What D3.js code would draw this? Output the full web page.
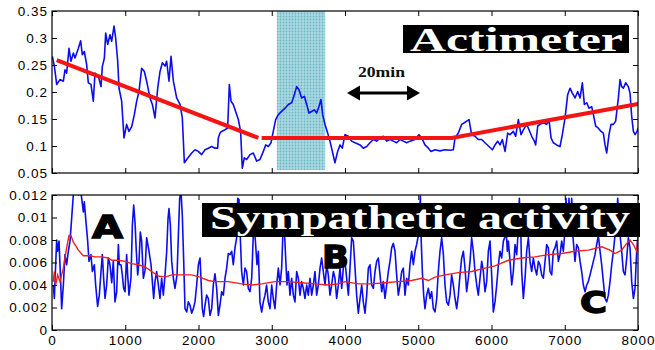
<!DOCTYPE html>
<html>
<head>
<meta charset="utf-8">
<script src="https://cdn.jsdelivr.net/npm/d3@7/dist/d3.min.js"></script>
<style>
  body { margin: 0; background: #fff; }
  svg { display: block; }
  .tick text { font-family: "Liberation Sans", Arial, sans-serif; font-size: 13.5px; letter-spacing: 1px; fill: #000; }
</style>
</head>
<body>
<div id="chart"></div>
<script>
// time axis (samples) shared by both panels
const timeTicks = [0, 1000, 2000, 3000, 4000, 5000, 6000, 7000, 8000];
const actTicks = [0.05, 0.1, 0.15, 0.2, 0.25, 0.3, 0.35];
const symTicks = [0, 0.002, 0.004, 0.006, 0.008, 0.01, 0.012];

// shaded interval on the actimeter panel
const shadeSpan = [3070, 3730];

// actimeter raw trace [t, value]
const actimeter = [
  [5,0.266],[32,0.248],[64,0.214],[109,0.223],[155,0.220],[177,0.241],[200,0.235],[232,0.281],[259,0.257],
  [291,0.272],[314,0.263],[360,0.281],[391,0.295],[414,0.269],[441,0.275],[473,0.251],[496,0.217],[532,0.214],
  [564,0.183],[587,0.235],[633,0.229],[669,0.210],[687,0.247],[715,0.263],[733,0.309],[760,0.288],[792,0.306],
  [815,0.294],[847,0.322],[869,0.300],[897,0.257],[915,0.207],[951,0.183],[983,0.115],[1019,0.140],[1051,0.127],
  [1088,0.136],[1124,0.158],[1156,0.183],[1188,0.201],[1224,0.244],[1261,0.238],[1292,0.220],[1338,0.189],
  [1370,0.177],[1406,0.152],[1443,0.207],[1475,0.238],[1506,0.254],[1543,0.248],[1565,0.257],[1597,0.220],
  [1625,0.266],[1657,0.220],[1702,0.189],[1748,0.177],[1779,0.152],[1807,0.069],[1839,0.075],[1907,0.087],
  [1952,0.093],[1998,0.090],[2043,0.084],[2089,0.093],[2134,0.096],[2180,0.099],[2225,0.096],[2261,0.096],
  [2271,0.115],[2293,0.124],[2316,0.127],[2362,0.130],[2398,0.133],[2421,0.214],[2444,0.183],[2475,0.177],
  [2507,0.164],[2544,0.149],[2575,0.127],[2598,0.059],[2625,0.078],[2657,0.075],[2703,0.084],[2748,0.087],
  [2794,0.072],[2839,0.075],[2885,0.090],[2917,0.102],[2953,0.099],[2990,0.106],[3021,0.127],[3053,0.149],
  [3090,0.158],[3135,0.164],[3181,0.170],[3226,0.177],[3272,0.180],[3308,0.195],[3340,0.210],[3372,0.204],
  [3408,0.189],[3445,0.192],[3477,0.177],[3508,0.161],[3545,0.164],[3581,0.167],[3613,0.161],[3645,0.173],
  [3672,0.186],[3695,0.158],[3727,0.140],[3763,0.124],[3795,0.109],[3827,0.090],[3863,0.069],[3900,0.090],
  [3932,0.102],[3963,0.096],[4000,0.121],[4046,0.118],[4091,0.109],[4137,0.106],[4205,0.102],[4250,0.096],
  [4296,0.099],[4341,0.106],[4387,0.112],[4432,0.109],[4478,0.115],[4523,0.118],[4569,0.109],[4614,0.112],
  [4660,0.109],[4705,0.106],[4751,0.112],[4796,0.109],[4842,0.106],[4887,0.109],[4956,0.112],[5010,0.121],
  [5047,0.115],[5092,0.102],[5138,0.096],[5174,0.090],[5229,0.093],[5297,0.091],[5365,0.093],[5434,0.092],
  [5479,0.093],[5502,0.115],[5547,0.124],[5593,0.140],[5629,0.143],[5661,0.146],[5693,0.149],[5729,0.121],
  [5775,0.118],[5820,0.112],[5866,0.112],[5911,0.106],[5966,0.099],[6012,0.093],[6048,0.102],[6084,0.109],
  [6116,0.102],[6148,0.112],[6185,0.090],[6221,0.124],[6253,0.121],[6298,0.127],[6330,0.118],[6367,0.149],
  [6403,0.121],[6435,0.130],[6480,0.140],[6512,0.130],[6549,0.118],[6585,0.109],[6603,0.102],[6631,0.137],
  [6662,0.140],[6708,0.143],[6753,0.140],[6785,0.149],[6813,0.115],[6844,0.106],[6890,0.102],[6935,0.099],
  [6967,0.121],[7004,0.152],[7040,0.195],[7072,0.207],[7104,0.198],[7140,0.189],[7177,0.201],[7209,0.189],
  [7240,0.217],[7268,0.177],[7300,0.180],[7331,0.170],[7368,0.173],[7391,0.158],[7422,0.137],[7459,0.133],
  [7495,0.127],[7527,0.124],[7550,0.102],[7573,0.087],[7604,0.121],[7632,0.140],[7664,0.140],[7695,0.146],
  [7732,0.189],[7755,0.223],[7777,0.210],[7800,0.207],[7832,0.217],[7868,0.210],[7891,0.198],[7914,0.155],
  [7937,0.127],[7960,0.121],[7987,0.127],[8000,0.133]
];

// piecewise trend fitted on the actimeter
const actTrendA = [[64,0.259],[2817,0.115]];
const actTrendB = [[2862,0.115],[5456,0.115],[8000,0.178]];

// sympathetic activity trace [t, value]
const sympathetic = [
  [18,0.0040],[32,0.0028],[50,0.0058],[64,0.0080],[77,0.0070],[96,0.0079],[118,0.0043],[132,0.0019],[155,0.0040],
  [177,0.0067],[200,0.0058],[223,0.0070],[246,0.0079],[268,0.0099],[291,0.0120],[314,0.0129],[337,0.0132],
  [360,0.0120],[382,0.0129],[405,0.0117],[428,0.0105],[441,0.0114],[460,0.0099],[487,0.0079],[505,0.0061],
  [532,0.0067],[551,0.0052],[578,0.0058],[596,0.0040],[623,0.0021],[646,0.0031],[669,0.0052],[687,0.0067],
  [705,0.0046],[724,0.0028],[746,0.0040],[769,0.0064],[792,0.0058],[815,0.0042],[837,0.0061],[860,0.0025],
  [883,0.0034],[906,0.0076],[919,0.0058],[942,0.0058],[960,0.0049],[978,0.0037],[997,0.0034],[1019,0.0067],
  [1033,0.0049],[1051,0.0031],[1078,0.0046],[1097,0.0093],[1115,0.0111],[1133,0.0096],[1151,0.0070],
  [1170,0.0049],[1188,0.0061],[1206,0.0087],[1224,0.0079],[1247,0.0046],[1270,0.0053],[1292,0.0082],
  [1306,0.0077],[1324,0.0070],[1352,0.0058],[1370,0.0043],[1388,0.0028],[1406,0.0043],[1429,0.0052],
  [1452,0.0040],[1474,0.0028],[1497,0.0046],[1520,0.0031],[1543,0.0049],[1566,0.0070],[1584,0.0099],
  [1597,0.0108],[1616,0.0093],[1634,0.0061],[1657,0.0046],[1679,0.0037],[1707,0.0049],[1725,0.0084],
  [1743,0.0117],[1761,0.0123],[1779,0.0102],[1798,0.0061],[1816,0.0019],[1839,0.0016],[1861,0.0025],
  [1884,0.0022],[1907,0.0015],[1930,0.0019],[1952,0.0025],[1975,0.0040],[1998,0.0058],[2021,0.0064],
  [2052,0.0019],[2070,0.0012],[2089,0.0022],[2111,0.0031],[2134,0.0028],[2157,0.0013],[2180,0.0019],
  [2202,0.0040],[2225,0.0050],[2248,0.0037],[2271,0.0013],[2293,0.0022],[2316,0.0034],[2339,0.0031],
  [2362,0.0046],[2384,0.0055],[2407,0.0068],[2430,0.0067],[2453,0.0070],[2475,0.0058],[2498,0.0073],
  [2521,0.0082],[2535,0.0117],[2553,0.0116],[2571,0.0082],[2589,0.0052],[2612,0.0040],[2635,0.0055],
  [2657,0.0052],[2680,0.0037],[2703,0.0034],[2726,0.0046],[2748,0.0084],[2762,0.0093],[2780,0.0076],
  [2798,0.0058],[2817,0.0070],[2839,0.0025],[2862,0.0016],[2885,0.0025],[2908,0.0031],[2930,0.0040],
  [2953,0.0025],[2976,0.0019],[2999,0.0040],[3021,0.0028],[3044,0.0019],[3067,0.0040],[3090,0.0055],
  [3113,0.0040],[3135,0.0055],[3153,0.0087],[3172,0.0090],[3190,0.0064],[3208,0.0040],[3226,0.0052],
  [3249,0.0031],[3272,0.0046],[3295,0.0031],[3317,0.0025],[3340,0.0052],[3363,0.0046],[3386,0.0031],
  [3408,0.0043],[3431,0.0037],[3454,0.0028],[3477,0.0040],[3499,0.0031],[3522,0.0046],[3545,0.0031],
  [3568,0.0040],[3590,0.0052],[3613,0.0031],[3636,0.0040],[3659,0.0055],[3681,0.0064],[3704,0.0052],
  [3727,0.0040],[3750,0.0058],[3772,0.0049],[3795,0.0031],[3818,0.0040],[3841,0.0052],[3863,0.0046],
  [3886,0.0028],[3909,0.0040],[3932,0.0055],[3955,0.0037],[3977,0.0055],
  [4000,0.0061],[4023,0.0046],[4046,0.0031],[4068,0.0055],[4091,0.0082],[4114,0.0079],[4137,0.0055],
  [4159,0.0031],[4182,0.0015],[4205,0.0028],[4228,0.0040],[4250,0.0025],[4273,0.0015],[4296,0.0031],
  [4319,0.0055],[4341,0.0058],[4364,0.0040],[4387,0.0037],[4410,0.0052],[4432,0.0061],[4455,0.0064],
  [4478,0.0049],[4501,0.0034],[4523,0.0043],[4546,0.0028],[4569,0.0040],[4592,0.0052],[4614,0.0061],
  [4637,0.0073],[4660,0.0077],[4683,0.0070],[4705,0.0049],[4728,0.0031],[4751,0.0040],[4774,0.0052],
  [4796,0.0055],[4819,0.0031],[4842,0.0046],[4865,0.0040],[4887,0.0058],[4910,0.0070],[4933,0.0058],
  [4956,0.0070],[4978,0.0076],[5001,0.0084],[5019,0.0105],[5029,0.0119],[5038,0.0084],[5056,0.0052],
  [5074,0.0031],[5092,0.0019],[5115,0.0031],[5138,0.0037],[5160,0.0028],[5183,0.0034],[5206,0.0019],
  [5229,0.0016],[5252,0.0028],[5274,0.0052],[5297,0.0070],[5320,0.0082],[5343,0.0067],[5365,0.0040],
  [5388,0.0025],[5411,0.0022],[5434,0.0031],[5456,0.0049],[5479,0.0040],[5502,0.0028],[5525,0.0019],
  [5547,0.0031],[5570,0.0049],[5593,0.0064],[5616,0.0070],[5638,0.0055],[5661,0.0034],[5684,0.0046],
  [5707,0.0061],[5729,0.0082],[5752,0.0070],[5775,0.0052],[5798,0.0040],[5820,0.0031],[5843,0.0046],
  [5866,0.0061],[5889,0.0052],[5911,0.0034],[5934,0.0043],[5957,0.0070],[5980,0.0079],[6002,0.0049],
  [6025,0.0016],[6048,0.0025],[6071,0.0040],[6094,0.0058],[6116,0.0070],[6139,0.0064],[6162,0.0079],
  [6185,0.0083],[6198,0.0093],[6216,0.0070],[6230,0.0079],[6253,0.0061],[6276,0.0040],[6298,0.0052],
  [6321,0.0076],[6344,0.0067],[6367,0.0090],[6380,0.0117],[6398,0.0093],[6412,0.0052],[6435,0.0028],
  [6458,0.0046],[6480,0.0070],[6503,0.0082],[6526,0.0061],[6549,0.0052],[6571,0.0064],[6594,0.0055],
  [6617,0.0049],[6640,0.0061],[6662,0.0058],[6685,0.0049],[6708,0.0046],[6731,0.0061],[6753,0.0076],
  [6776,0.0073],[6799,0.0052],[6822,0.0049],[6844,0.0070],[6867,0.0073],[6890,0.0079],[6913,0.0061],
  [6935,0.0067],[6958,0.0079],[6981,0.0070],[7004,0.0090],[7017,0.0117],[7040,0.0084],[7058,0.0117],
  [7077,0.0084],[7095,0.0117],[7113,0.0082],[7140,0.0061],[7163,0.0076],[7186,0.0073],[7209,0.0061],
  [7231,0.0052],[7254,0.0040],[7277,0.0034],[7300,0.0040],[7322,0.0043],[7345,0.0049],[7368,0.0055],
  [7390,0.0061],[7413,0.0067],[7436,0.0076],[7459,0.0084],[7482,0.0070],[7504,0.0058],[7527,0.0043],
  [7550,0.0028],[7573,0.0025],[7595,0.0031],[7618,0.0043],[7641,0.0058],[7664,0.0070],[7686,0.0084],
  [7709,0.0099],[7723,0.0117],[7741,0.0096],[7759,0.0082],[7777,0.0070],[7800,0.0052],[7823,0.0049],
  [7846,0.0064],[7868,0.0082],[7891,0.0073],[7914,0.0043],[7937,0.0028],[7959,0.0037],[7982,0.0070],
  [8000,0.0084]
];

// smoothed sympathetic level
const sympTrend = [
  [18,0.0043],[32,0.0052],[50,0.0040],[77,0.0049],[109,0.0043],[155,0.0055],[200,0.0073],[232,0.0084],
  [259,0.0084],[291,0.0078],[323,0.0075],[360,0.0071],[428,0.0066],[519,0.0066],[587,0.0065],[678,0.0065],
  [769,0.0064],[815,0.0062],[906,0.0062],[997,0.0061],[1088,0.0059],[1179,0.0058],[1270,0.0056],[1361,0.0052],
  [1452,0.0048],[1543,0.0047],[1634,0.0049],[1725,0.0049],[1816,0.0049],[1907,0.0049],[2021,0.0047],
  [2134,0.0044],[2225,0.0043],[2407,0.0043],[2589,0.0041],[2726,0.0040],[2862,0.0041],[3044,0.0043],
  [3226,0.0043],[3408,0.0042],[3590,0.0041],[3772,0.0040],[3909,0.0041],[4000,0.0043],[4182,0.0041],
  [4364,0.0041],[4546,0.0042],[4728,0.0043],[4910,0.0044],[5047,0.0046],[5138,0.0044],[5229,0.0047],
  [5365,0.0049],[5547,0.0051],[5729,0.0052],[5911,0.0055],[6048,0.0057],[6230,0.0062],[6412,0.0064],
  [6594,0.0065],[6776,0.0067],[6958,0.0068],[7140,0.0070],[7322,0.0071],[7504,0.0074],[7618,0.0071],
  [7686,0.0068],[7777,0.0071],[7846,0.0077],[7891,0.0080],[7937,0.0076],[7982,0.0070],[8000,0.0084]
];

const W = 655, H = 350;
const left = 52, right = 638;
const top1 = 11, bot1 = 173;
const top2 = 195, bot2 = 330;

const svg = d3.select("#chart").append("svg")
  .attr("width", W).attr("height", H);

svg.append("rect").attr("width", W).attr("height", H).attr("fill", "#fff");

const defs = svg.append("defs");
const pat = defs.append("pattern")
  .attr("id", "dots").attr("width", 3).attr("height", 3)
  .attr("patternUnits", "userSpaceOnUse");
pat.append("rect").attr("width", 3).attr("height", 3).attr("fill", "#aad9e2");
pat.append("circle").attr("cx", 1.5).attr("cy", 1.5).attr("r", 0.9).attr("fill", "#6fb9c7");

defs.append("clipPath").attr("id", "clip1").append("rect")
  .attr("x", left).attr("y", top1).attr("width", right - left).attr("height", bot1 - top1);
defs.append("clipPath").attr("id", "clip2").append("rect")
  .attr("x", left).attr("y", top2).attr("width", right - left).attr("height", bot2 - top2);

const x = d3.scaleLinear().domain([0, 8000]).range([left, right]);
const y1 = d3.scaleLinear().domain([0.05, 0.35]).range([bot1, top1]);
const y2 = d3.scaleLinear().domain([0, 0.012]).range([bot2, top2]);

function frame(top, bot, y, yTicks, fmt, showX) {
  const g = svg.append("g");
  g.append("g").attr("transform", "translate(" + left + ",0)")
    .call(d3.axisLeft(y).tickValues(yTicks).tickSizeInner(-5).tickSizeOuter(0).tickPadding(4).tickFormat(fmt));
  g.append("g").attr("transform", "translate(" + right + ",0)")
    .call(d3.axisRight(y).tickValues(yTicks).tickSizeInner(-5).tickSizeOuter(0).tickFormat(""));
  g.append("g").attr("transform", "translate(0," + top + ")")
    .call(d3.axisTop(x).tickValues(timeTicks).tickSizeInner(-5).tickSizeOuter(0).tickFormat(""));
  g.append("g").attr("transform", "translate(0," + bot + ")")
    .call(d3.axisBottom(x).tickValues(timeTicks).tickSizeInner(-5).tickSizeOuter(0).tickPadding(5)
      .tickFormat(showX ? d3.format("d") : ""));
  g.selectAll(".domain").remove();
  g.selectAll(".tick line").attr("stroke", "#000");
  g.append("rect").attr("x", left).attr("y", top).attr("width", right - left).attr("height", bot - top)
    .attr("fill", "none").attr("stroke", "#000").attr("stroke-width", 1.2);
}

// ---- top panel: actimeter
const p1 = svg.append("g").attr("clip-path", "url(#clip1)");
p1.append("rect")
  .attr("x", x(shadeSpan[0])).attr("width", x(shadeSpan[1]) - x(shadeSpan[0]))
  .attr("y", top1).attr("height", bot1 - top1 - 3)
  .attr("fill", "url(#dots)");

const line1 = d3.line().x(d => x(d[0])).y(d => y1(d[1]));
p1.append("path").datum(actimeter).attr("d", line1)
  .attr("fill", "none").attr("stroke", "#0c0cf0").attr("stroke-width", 1.6).attr("stroke-linejoin", "round");
[actTrendA, actTrendB].forEach(seg => {
  p1.append("path").datum(seg).attr("d", line1)
    .attr("fill", "none").attr("stroke", "#f41414").attr("stroke-width", 4);
});
frame(top1, bot1, y1, actTicks, d => String(+d.toFixed(2)), false);

svg.append("rect").attr("x", 403).attr("y", 25).attr("width", 226).attr("height", 28).attr("fill", "#000");
svg.append("text").attr("x", 410).attr("y", 51)
  .attr("font-family", "Liberation Serif, Times New Roman, serif").attr("font-weight", "bold")
  .attr("font-size", 34).attr("fill", "#fff")
  .attr("textLength", 213).attr("lengthAdjust", "spacingAndGlyphs")
  .text("Actimeter");

svg.append("text").attr("x", 358).attr("y", 77)
  .attr("font-family", "Liberation Serif, Times New Roman, serif").attr("font-weight", "bold")
  .attr("font-size", 14).attr("fill", "#111")
  .attr("textLength", 47).attr("lengthAdjust", "spacingAndGlyphs")
  .text("20min");
const arrow = svg.append("g").attr("fill", "#000");
arrow.append("line").attr("x1", 356).attr("x2", 411).attr("y1", 93).attr("y2", 93)
  .attr("stroke", "#000").attr("stroke-width", 3.2);
arrow.append("path").attr("d", "M347,93 L360,85.5 L360,100.5 Z");
arrow.append("path").attr("d", "M420,93 L407,85.5 L407,100.5 Z");

// ---- bottom panel: sympathetic activity
const p2 = svg.append("g").attr("clip-path", "url(#clip2)");
const line2 = d3.line().x(d => x(d[0])).y(d => y2(d[1]));
p2.append("path").datum(sympathetic).attr("d", line2)
  .attr("fill", "none").attr("stroke", "#0c0cf0").attr("stroke-width", 1.6).attr("stroke-linejoin", "round");
p2.append("path").datum(sympTrend).attr("d", line2)
  .attr("fill", "none").attr("stroke", "#ee2020").attr("stroke-width", 1.4);
frame(top2, bot2, y2, symTicks, d => String(+d.toFixed(3)), true);

svg.append("rect").attr("x", 202).attr("y", 203).attr("width", 438).attr("height", 34).attr("fill", "#000");
svg.append("text").attr("x", 210).attr("y", 229)
  .attr("font-family", "Liberation Serif, Times New Roman, serif").attr("font-weight", "bold")
  .attr("font-size", 33).attr("fill", "#fff")
  .attr("textLength", 420).attr("lengthAdjust", "spacingAndGlyphs")
  .text("Sympathetic activity");

const marks = [
  { t: "A", x: 92, y: 238, w: 31, s: 32 },
  { t: "B", x: 322, y: 268, w: 27, s: 32 },
  { t: "C", x: 580, y: 313, w: 27, s: 30 }
];
svg.selectAll("text.mark").data(marks).enter().append("text")
  .attr("class", "mark")
  .attr("x", d => d.x).attr("y", d => d.y)
  .attr("font-family", "DejaVu Sans, Arial, sans-serif").attr("font-weight", "bold")
  .attr("font-size", d => d.s).attr("fill", "#000").attr("stroke", "#000").attr("stroke-width", 1.4)
  .attr("textLength", d => d.w).attr("lengthAdjust", "spacingAndGlyphs")
  .text(d => d.t);
</script>
</body>
</html>
